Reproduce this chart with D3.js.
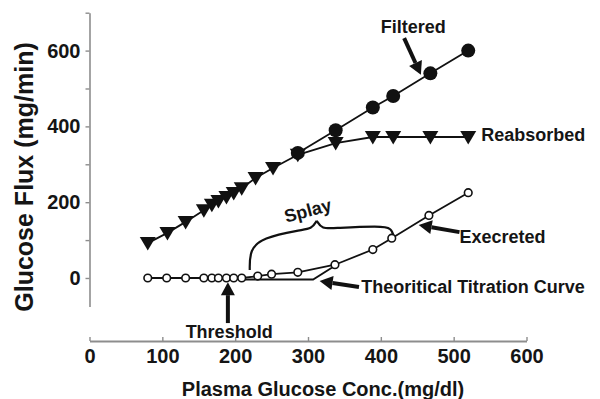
<!DOCTYPE html>
<html>
<head>
<meta charset="utf-8">
<script src="https://cdn.jsdelivr.net/npm/d3@7"></script>
<style>
  body { margin: 0; background: #fff; }
  svg text { font-family: "Liberation Sans", Arial, sans-serif; font-weight: bold; fill: #151515; }
</style>
</head>
<body>
<div id="chart"></div>
<script>
// values (x = plasma glucose mg/dl, y = glucose flux mg/min)
const xTicks = [0, 100, 200, 300, 400, 500, 600]
const yTicks = [0, 100, 200, 300, 400, 500, 600, 700]
const yLabels = [0, 200, 400, 600]

const filteredX = [286, 338, 389, 417, 468, 520]
const filteredY = [330, 390, 450, 480, 540, 600]

const reabsorbedX = [80, 107, 132, 157, 168, 177, 188, 198, 209, 228, 252, 286, 338, 389, 417, 468, 520]
const reabsorbedY = [92, 119, 148, 179, 193, 203, 214, 224, 237, 264, 290, 325, 356, 372, 372, 372, 372]

const excretedX = [80, 106, 132, 157, 168, 177, 188, 198, 209, 231, 250, 286, 337, 389, 415, 466, 520]
const excretedY = [0, 0, 0, 0, 0, 0, 0, 0, 0, 5, 10, 15, 35, 75, 105, 165, 225]

const theoryX = [209, 307, 337]
const theoryY = [-4, -4, 32]

// splay brace, two halves meeting at the tip
const braceLeft = [[220, 21], [220, 74], [237, 106], [289, 127], [305, 129], [312, 151]]
const braceRight = [[312, 151], [319, 129], [337, 132], [399, 137], [415, 132], [418, 106]]

// annotations: label text, label position, arrow tail -> tip
const notes = [
  { text: 'Filtered', x: 400, y: 646, tail: [432, 633], tip: [455, 536] },
  { text: 'Reabsorbed', x: 538, y: 361 },
  { text: 'Execreted', x: 508, y: 92, tail: [508, 121], tip: [452, 140] },
  { text: 'Theoritical Titration Curve', x: 373, y: -40, tail: [370, -24], tip: [316, -8] },
  { text: 'Threshold', x: 132, y: -158, tail: [190, -119], tip: [190, -11] }
]

const width = 600, height = 399

const svg = d3.select('#chart')
  .append('svg')
    .attr('width', width)
    .attr('height', height)

const x = d3.scaleLinear().domain([0, 600]).range([89.5, 526.5])
const y = d3.scaleLinear().domain([-75, 700]).range([306.4, 12.7])
const xAxisY = 341

// axes
const yAxis = d3.axisLeft(y)
  .tickValues(yTicks)
  .tickSize(4)
  .tickSizeOuter(0)
  .tickPadding(5)
  .tickFormat(d => yLabels.includes(d) ? d : '')

const gy = svg.append('g')
  .attr('transform', `translate(${x(0)},0)`)
  .call(yAxis)
gy.select('.domain').attr('stroke', '#8d8d8d').attr('stroke-width', 1.6)
gy.selectAll('.tick line').attr('stroke', '#8d8d8d').attr('stroke-width', 1.4)
gy.selectAll('.tick text').attr('font-size', 20).attr('fill', '#151515')
  .attr('font-family', '"Liberation Sans", Arial, sans-serif').attr('font-weight', 'bold')

const xAxis = d3.axisBottom(x)
  .tickValues(xTicks)
  .tickSizeInner(-4)
  .tickSizeOuter(0)
  .tickPadding(8)

const gx = svg.append('g')
  .attr('transform', `translate(0,${xAxisY})`)
  .call(xAxis)
gx.select('.domain').attr('stroke', '#8d8d8d').attr('stroke-width', 1.8)
gx.selectAll('.tick line').attr('stroke', '#8d8d8d').attr('stroke-width', 1.4)
gx.selectAll('.tick text').attr('font-size', 20).attr('fill', '#151515')
  .attr('font-family', '"Liberation Sans", Arial, sans-serif').attr('font-weight', 'bold')

// axis titles
svg.append('text')
  .attr('x', 323)
  .attr('y', 396)
  .attr('text-anchor', 'middle')
  .attr('font-size', 20)
  .text('Plasma Glucose Conc.(mg/dl)')

svg.append('text')
  .attr('transform', `translate(33,${(37 + 317) / 2}) rotate(-90)`)
  .attr('text-anchor', 'middle')
  .attr('font-size', 25)
  .text('Glucose Flux (mg/min)')

const line = d3.line().x(d => x(d[0])).y(d => y(d[1]))
const zip = (a, b) => a.map((v, i) => [v, b[i]])

// theoretical titration curve
svg.append('path')
  .datum(zip(theoryX, theoryY))
  .attr('fill', 'none')
  .attr('stroke', '#111')
  .attr('stroke-width', 1.8)
  .attr('d', line)

// series lines
const series = [zip(filteredX, filteredY), zip(reabsorbedX, reabsorbedY), zip(excretedX, excretedY)]
svg.append('g')
  .selectAll('path')
  .data(series)
  .join('path')
    .attr('fill', 'none')
    .attr('stroke', '#111')
    .attr('stroke-width', 1.8)
    .attr('d', line)

// splay brace
const braceLine = d3.line().x(d => x(d[0])).y(d => y(d[1])).curve(d3.curveBasis)
svg.append('g')
  .selectAll('path')
  .data([braceLeft, braceRight])
  .join('path')
    .attr('fill', 'none')
    .attr('stroke', '#111')
    .attr('stroke-width', 2.2)
    .attr('d', braceLine)

svg.append('text')
  .attr('transform', `translate(${x(302)},${y(162)}) rotate(-15)`)
  .attr('text-anchor', 'middle')
  .attr('font-size', 18)
  .text('Splay')

// markers
svg.append('g')
  .selectAll('circle')
  .data(zip(filteredX, filteredY))
  .join('circle')
    .attr('cx', d => x(d[0]))
    .attr('cy', d => y(d[1]))
    .attr('r', 7)
    .attr('fill', '#111')

svg.append('g')
  .selectAll('path')
  .data(zip(reabsorbedX, reabsorbedY))
  .join('path')
    .attr('transform', d => `translate(${x(d[0])},${y(d[1])})`)
    .attr('d', 'M-8,-6L8,-6L0,7.5Z')
    .attr('fill', '#111')

svg.append('g')
  .selectAll('circle')
  .data(zip(excretedX, excretedY))
  .join('circle')
    .attr('cx', d => x(d[0]))
    .attr('cy', d => y(d[1]))
    .attr('r', 3.8)
    .attr('fill', '#fff')
    .attr('stroke', '#111')
    .attr('stroke-width', 1.6)

// annotation labels and arrows
svg.append('g')
  .selectAll('text')
  .data(notes)
  .join('text')
    .attr('x', d => x(d.x))
    .attr('y', d => y(d.y))
    .attr('font-size', 18)
    .text(d => d.text)

const arrows = notes.filter(d => d.tail)
arrows.forEach(d => {
  const x0 = x(d.tail[0]), y0 = y(d.tail[1])
  const x1 = x(d.tip[0]), y1 = y(d.tip[1])
  const a = Math.atan2(y1 - y0, x1 - x0)
  const headLen = 13, half = 7
  const bx = x1 - headLen * Math.cos(a), by = y1 - headLen * Math.sin(a)
  svg.append('line')
    .attr('x1', x0).attr('y1', y0)
    .attr('x2', bx).attr('y2', by)
    .attr('stroke', '#111')
    .attr('stroke-width', 4)
  svg.append('path')
    .attr('d', `M${x1},${y1}L${bx + half * Math.sin(a)},${by - half * Math.cos(a)}L${bx - half * Math.sin(a)},${by + half * Math.cos(a)}Z`)
    .attr('fill', '#111')
})
</script>
</body>
</html>
